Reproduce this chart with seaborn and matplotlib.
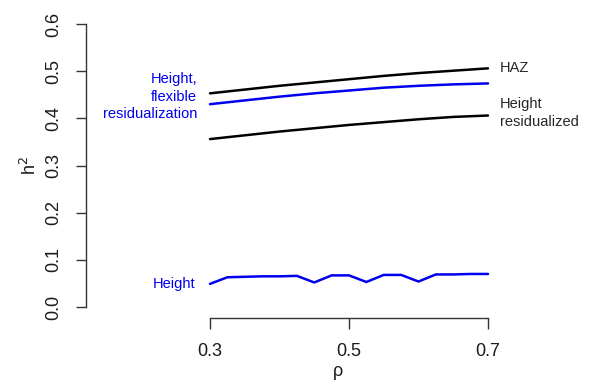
import matplotlib
matplotlib.use("Agg")
import matplotlib.pyplot as plt
import pandas as pd
import seaborn as sb

rho_fine = [0.3, 0.325, 0.35, 0.375, 0.4, 0.425, 0.45, 0.475, 0.5,
            0.525, 0.55, 0.575, 0.6, 0.625, 0.65, 0.675, 0.7]
height = [0.049, 0.063, 0.064, 0.065, 0.065, 0.066, 0.052, 0.067, 0.067,
          0.053, 0.068, 0.068, 0.054, 0.069, 0.069, 0.070, 0.070]

rho = [0.3, 0.35, 0.4, 0.45, 0.5, 0.55, 0.6, 0.65, 0.7]
haz = [0.453, 0.461, 0.469, 0.476, 0.483, 0.490, 0.496, 0.501, 0.506]
height_flex = [0.430, 0.438, 0.446, 0.453, 0.459, 0.465, 0.469, 0.472, 0.474]
height_resid = [0.356, 0.364, 0.372, 0.379, 0.386, 0.392, 0.398, 0.403, 0.406]

x_ticks = [0.3, 0.5, 0.7]
y_ticks = [0.0, 0.1, 0.2, 0.3, 0.4, 0.5, 0.6]

sb.set_style("ticks")
plt.rcParams['font.family'] = ['Liberation Sans', 'DejaVu Sans']

fig = plt.figure(figsize=(5.9, 3.84), dpi=100)
# axes box in pixels: left 86, right 590, top 12.7, bottom 318.3
ax = fig.add_axes([86 / 590, (384 - 318.3) / 384, (590 - 86) / 590, (318.3 - 12.7) / 384])

df_fine = pd.DataFrame({'rho': rho_fine, 'h2': height})
df = pd.DataFrame({'rho': rho, 'haz': haz, 'flex': height_flex, 'resid': height_resid})

sb.lineplot(data=df, x='rho', y='haz', color='black', lw=1.8, ax=ax)
sb.lineplot(data=df, x='rho', y='flex', color='#0000ee', lw=1.8, ax=ax)
sb.lineplot(data=df, x='rho', y='resid', color='black', lw=1.8, ax=ax)
sb.lineplot(data=df_fine, x='rho', y='h2', color='#0000ee', lw=1.8, ax=ax)

ax.set_xlim(0.3 - 124 / 695, 0.3 + 380 / 695)
ax.set_ylim(-0.024, 0.624)

ax.set_xticks(x_ticks)
ax.set_xticklabels(['0.3', '0.5', '0.7'])
ax.set_yticks(y_ticks)
ax.set_yticklabels(['0.0', '0.1', '0.2', '0.3', '0.4', '0.5', '0.6'], rotation=90, va='center')

for s in ['top', 'right']:
    ax.spines[s].set_visible(False)
ax.spines['left'].set_bounds(0.0, 0.6)
ax.spines['bottom'].set_bounds(0.3, 0.7)
for s in ['left', 'bottom']:
    ax.spines[s].set_color('#333333')
    ax.spines[s].set_linewidth(1.0)

ax.tick_params(axis='x', length=8, width=1.0, color='#333333', pad=10, labelsize=13,
               labelcolor='#1a1a1a')
ax.tick_params(axis='y', length=7, width=1.0, color='#333333', pad=10, labelsize=13,
               labelcolor='#1a1a1a')

ax.set_xlabel('ρ', fontsize=13, labelpad=2, color='#1a1a1a')
ax.set_ylabel('h$^2$', fontsize=13, labelpad=4, color='#1a1a1a')

ax.text(0.7 + 12 / 695, 0.507, 'HAZ', fontsize=10.5, ha='left', va='center')
ax.text(0.7 + 12 / 695, 0.411, 'Height\nresidualized', fontsize=10.5, ha='left', va='center',
        linespacing=1.32)
ax.text(0.3 - 13 / 695, 0.446, 'Height,\nflexible\nresidualization', fontsize=10.5,
        ha='right', va='center', color='#0000ee', linespacing=1.32)
ax.text(0.3 - 15 / 695, 0.049, 'Height', fontsize=10.5, ha='right', va='center', color='#0000ee')

plt.savefig('out.png', dpi=100)
